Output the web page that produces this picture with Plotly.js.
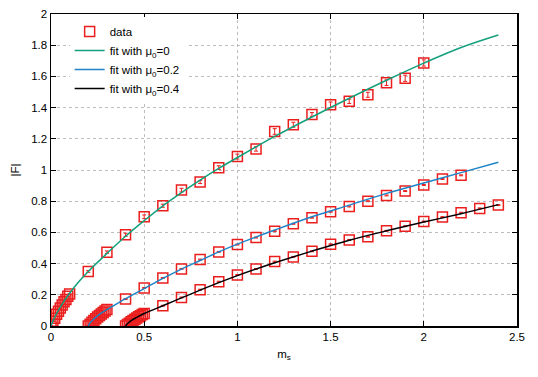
<!DOCTYPE html>
<html>
<head>
<meta charset="utf-8">
<script src="https://cdn.plot.ly/plotly-3.0.1.min.js"></script>
<style>
  body { margin: 0; background: #fff; }
  #plot { width: 538px; height: 377px; }
</style>
</head>
<body>
<div id="plot"></div>
<script>
// datos mu0 = 0
const m0 = [0, 0.01, 0.02, 0.03, 0.04, 0.05, 0.06, 0.07, 0.08, 0.09, 0.1,
  0.2, 0.3, 0.4, 0.5, 0.6, 0.7, 0.8, 0.9, 1.0, 1.1, 1.2, 1.3, 1.4, 1.5, 1.6, 1.7, 1.8, 1.9, 2.0];
const f0 = [0, 0.03, 0.05, 0.075, 0.095, 0.115, 0.135, 0.155, 0.17, 0.19, 0.205,
  0.35, 0.473, 0.585, 0.70, 0.771, 0.871, 0.923, 1.015, 1.086, 1.135, 1.247, 1.29, 1.356, 1.418, 1.44, 1.482, 1.56, 1.588, 1.686];
const e0 = [0.003, 0.003, 0.003, 0.003, 0.003, 0.003, 0.003, 0.003, 0.003, 0.003, 0.004,
  0.006, 0.008, 0.01, 0.012, 0.01, 0.012, 0.01, 0.012, 0.016, 0.014, 0.018, 0.016, 0.012, 0.018, 0.014, 0.016, 0.018, 0.02, 0.02];

// datos mu0 = 0.2
const m1 = [0.2, 0.21, 0.22, 0.23, 0.24, 0.25, 0.26, 0.27, 0.28, 0.29, 0.3,
  0.4, 0.5, 0.6, 0.7, 0.8, 0.9, 1.0, 1.1, 1.2, 1.3, 1.4, 1.5, 1.6, 1.7, 1.8, 1.9, 2.0, 2.1, 2.2];
const f1 = [0, 0.012, 0.024, 0.035, 0.046, 0.057, 0.067, 0.077, 0.087, 0.096, 0.105,
  0.173, 0.244, 0.308, 0.366, 0.426, 0.475, 0.522, 0.567, 0.608, 0.655, 0.694, 0.732, 0.766, 0.80, 0.837, 0.865, 0.904, 0.942, 0.966];

// datos mu0 = 0.4
const m2 = [0.4, 0.41, 0.42, 0.43, 0.44, 0.45, 0.46, 0.47, 0.48, 0.49, 0.5,
  0.6, 0.7, 0.8, 0.9, 1.0, 1.1, 1.2, 1.3, 1.4, 1.5, 1.6, 1.7, 1.8, 1.9, 2.0, 2.1, 2.2, 2.3, 2.4];
const f2 = [0, 0.009, 0.018, 0.027, 0.035, 0.043, 0.051, 0.059, 0.066, 0.073, 0.08,
  0.13, 0.183, 0.233, 0.284, 0.327, 0.366, 0.413, 0.443, 0.479, 0.524, 0.552, 0.572, 0.61, 0.64, 0.67, 0.698, 0.726, 0.754, 0.775];

// curvas de ajuste
const fitX0 = [0, 0.01, 0.03, 0.06, 0.1, 0.15, 0.2, 0.3, 0.4, 0.5, 0.6, 0.7, 0.8, 0.9, 1.0, 1.2, 1.4, 1.6, 1.8, 2.0, 2.2, 2.4];
const fitY0 = [0, 0.03, 0.08, 0.14, 0.21, 0.285, 0.35, 0.465, 0.575, 0.675, 0.77, 0.855, 0.935, 1.01, 1.08, 1.215, 1.34, 1.46, 1.575, 1.685, 1.785, 1.865];
const fitX1 = [0.2, 0.21, 0.23, 0.26, 0.3, 0.35, 0.4, 0.5, 0.6, 0.7, 0.8, 0.9, 1.0, 1.2, 1.4, 1.6, 1.8, 2.0, 2.2, 2.4];
const fitY1 = [0, 0.02, 0.045, 0.075, 0.105, 0.14, 0.175, 0.24, 0.305, 0.365, 0.42, 0.475, 0.525, 0.615, 0.70, 0.775, 0.85, 0.917, 0.983, 1.05];
const fitX2 = [0.4, 0.41, 0.43, 0.46, 0.5, 0.55, 0.6, 0.7, 0.8, 0.9, 1.0, 1.2, 1.4, 1.6, 1.8, 2.0, 2.2, 2.4];
const fitY2 = [0, 0.015, 0.035, 0.055, 0.08, 0.105, 0.13, 0.18, 0.23, 0.278, 0.323, 0.405, 0.48, 0.55, 0.61, 0.666, 0.72, 0.778];

const smallErr = 0.003;
const font = { family: 'Liberation Sans, Arial, sans-serif', size: 11.5, color: '#000' };

const allM = m0.concat(m1, m2);
const allF = f0.concat(f1, f2);
const allE = e0.concat(m1.map(() => smallErr), m2.map(() => smallErr));

const traces = [
  {
    x: allM, y: allF,
    mode: 'markers',
    name: 'data',
    marker: { symbol: 'square-open', size: 10, color: 'rgb(235,30,30)', line: { width: 1.5 } },
    error_y: { type: 'data', array: allE, visible: true, color: 'rgb(235,30,30)', thickness: 1, width: 2 }
  },
  {
    x: fitX0, y: fitY0, mode: 'lines', name: 'fit with μ<sub>0</sub>=0',
    line: { color: '#13a07c', width: 1.5, shape: 'spline' }
  },
  {
    x: fitX1, y: fitY1, mode: 'lines', name: 'fit with μ<sub>0</sub>=0.2',
    line: { color: '#1f84c6', width: 1.5, shape: 'spline' }
  },
  {
    x: fitX2, y: fitY2, mode: 'lines', name: 'fit with μ<sub>0</sub>=0.4',
    line: { color: '#000000', width: 1.5, shape: 'spline' }
  }
];

const axisStyle = {
  showline: true, mirror: 'ticks', linecolor: '#000', linewidth: 1.5,
  ticks: 'inside', ticklen: 5, tickcolor: '#000',
  showgrid: true, gridcolor: '#bdbdbd', griddash: 'dot', gridwidth: 1,
  zeroline: false, tickfont: font
};

const layout = {
  width: 538, height: 377,
  margin: { l: 51, r: 21, t: 14, b: 51 },
  paper_bgcolor: '#fff', plot_bgcolor: '#fff',
  font: font,
  showlegend: true,
  legend: {
    x: 0.04, xanchor: 'left', y: 0.99, yanchor: 'top',
    bgcolor: '#fff', font: font, tracegroupgap: 0
  },
  xaxis: Object.assign({}, axisStyle, {
    range: [0, 2.5], tick0: 0, dtick: 0.5,
    title: { text: 'm<sub>s</sub>', font: font, standoff: 7 }
  }),
  yaxis: Object.assign({}, axisStyle, {
    range: [0, 2], tick0: 0, dtick: 0.2,
    title: { text: '|F|', font: font, standoff: 9 }
  })
};

Plotly.newPlot('plot', traces, layout, { displayModeBar: false, staticPlot: true });
</script>
</body>
</html>
